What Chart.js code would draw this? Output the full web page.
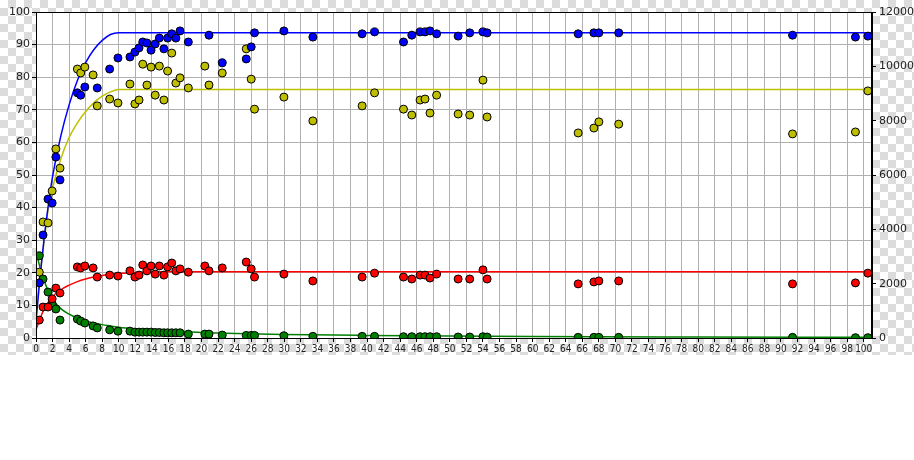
<!DOCTYPE html>
<html>
<head>
<meta charset="utf-8">
<script src="https://cdn.jsdelivr.net/npm/chart.js@4"></script>
<style>
  body { margin: 0; background: #fff; }
  #wrap {
    position: relative; width: 914px; height: 355px;
    background-color: #fff;
    background-image: repeating-conic-gradient(#dcdcdc 0% 25%, #fff 0% 50%);
    background-size: 16px 16px;
  }
</style>
</head>
<body>
<div id="wrap"><canvas id="chart"></canvas></div>
<script>
// measured samples (shared time axis)
const times = [0.4, 0.85, 1.45, 1.95, 2.4, 2.9, 5.0, 5.4, 5.9, 6.9, 7.4, 8.9, 9.9, 11.35, 11.95, 12.45, 12.9, 13.4, 13.9, 14.4, 14.9, 15.45, 15.9, 16.4, 16.9, 17.4, 18.4, 20.4, 20.9, 22.5, 25.4, 26.0, 26.4, 29.95, 33.45, 39.4, 40.9, 44.4, 45.4, 46.4, 47.0, 47.6, 48.4, 51.0, 52.4, 54.0, 54.5, 65.5, 67.4, 68.0, 70.4, 91.4, 99.0, 100.5];
const blueVals = [16.9, 31.6, 42.6, 41.4, 55.5, 48.5, 75.2, 74.5, 77.0, null, 76.7, 82.5, 85.9, 86.2, 87.7, 89.0, 90.8, 90.5, 88.3, 90.2, 92.0, 88.7, 92.0, 93.3, 92.0, 94.2, 90.8, null, 92.9, 84.4, 85.6, 89.3, 93.6, 94.2, 92.3, 93.3, 93.9, 90.8, 92.9, 93.9, 93.9, 94.2, 93.3, 92.6, 93.6, 93.9, 93.6, 93.3, 93.6, 93.6, 93.6, 92.9, 92.3, 92.6];
const yellowVals = [20.2, 35.6, 35.3, 45.1, 58.0, 52.1, 82.5, 81.3, 83.1, 80.7, 71.2, 73.3, 72.1, 77.9, 71.8, 73.0, 84.0, 77.6, 83.1, 74.5, 83.4, 73.0, 81.9, 87.4, 78.2, 79.8, 76.7, 83.4, 77.6, 81.3, 88.7, 79.4, 70.2, 73.9, 66.6, 71.2, 75.2, 70.2, 68.4, 73.0, 73.3, 69.0, 74.5, 68.7, 68.4, 79.1, 67.8, 62.9, 64.4, 66.3, 65.6, 62.6, 63.2, 75.8];
const redVals = [5.5, 9.5, 9.5, 12.0, 15.3, 13.8, 21.8, 21.5, 22.1, 21.5, 18.7, 19.3, 19.0, 20.6, 18.7, 19.3, 22.4, 20.6, 22.1, 19.6, 22.1, 19.3, 21.8, 23.0, 20.6, 21.2, 20.2, 22.1, 20.6, 21.5, 23.3, 21.2, 18.7, 19.6, 17.5, 18.7, 19.9, 18.7, 18.1, 19.3, 19.3, 18.4, 19.6, 18.1, 18.1, 20.9, 18.1, 16.6, 17.2, 17.5, 17.5, 16.6, 16.9, 19.9];
const greenVals = [25.2, 18.1, 14.1, 10.4, 8.9, 5.5, 5.8, 5.2, 4.6, 3.7, 3.1, 2.5, 2.1, 2.1, 1.8, 1.8, 1.8, 1.8, 1.8, 1.7, 1.7, 1.6, 1.6, 1.6, 1.6, 1.6, 1.2, 1.2, 1.2, 0.9, 0.8, 0.8, 0.8, 0.7, 0.5, 0.5, 0.5, 0.4, 0.4, 0.4, 0.4, 0.4, 0.4, 0.3, 0.3, 0.4, 0.3, 0.2, 0.2, 0.2, 0.2, 0.2, 0.1, 0.1];

// fitted curves
const fitTimes = [0, 0.5, 1, 1.5, 2, 3, 4, 5, 6, 7, 8, 9, 10, 12, 15, 20, 30, 40, 60, 80, 101];
const blueFit = [5, 19, 31, 41, 49.5, 62, 71.5, 79, 84.5, 88.5, 91.3, 93.1, 93.6, 93.6, 93.6, 93.6, 93.6, 93.6, 93.6, 93.6, 93.6];
const yellowFit = [8, 20, 30, 40, 46, 55, 61.5, 66, 69.5, 72.2, 74.2, 75.5, 76.2, 76.2, 76.2, 76.2, 76.2, 76.2, 76.2, 76.2, 76.2];
const redFit = [2.5, 6, 9, 11, 12.7, 14.8, 16.2, 17.3, 18.1, 18.7, 19.2, 19.6, 19.8, 20.1, 20.3, 20.3, 20.3, 20.3, 20.3, 20.3, 20.3];
const greenFit = [26.5, 21.5, 17.5, 14.3, 12, 9, 7.3, 6.1, 5.2, 4.6, 4.1, 3.7, 3.3, 2.8, 2.3, 1.7, 1.1, 0.8, 0.45, 0.3, 0.2];

const leftTicks = { min: 0, max: 100, step: 10 };
const rightTicks = { min: 0, max: 12000, step: 2000 };
const xTicks = { min: 0, max: 101, step: 2 };

const pts = (xs, ys) => xs.map((x, i) => ({ x: x, y: ys[i] })).filter(p => p.y !== null);

const dots = (ys, color) => ({
    type: 'scatter',
    data: pts(times, ys),
    backgroundColor: color,
    borderColor: '#000',
    borderWidth: 1,
    pointRadius: 4,
    showLine: false,
    order: 0
});
const curve = (ys, color) => ({
    type: 'scatter',
    data: pts(fitTimes, ys),
    borderColor: color,
    borderWidth: 1.5,
    pointRadius: 0,
    showLine: true,
    cubicInterpolationMode: 'monotone',
    order: 1
});

const frame = {
    id: 'frame',
    beforeDraw(chart) {
        const a = chart.chartArea, c = chart.ctx;
        c.save();
        c.fillStyle = '#fff';
        c.fillRect(a.left, a.top, a.right - a.left, a.bottom - a.top);
        c.restore();
    },
    afterDraw(chart) {
        const a = chart.chartArea, c = chart.ctx;
        c.save();
        c.strokeStyle = '#000';
        c.lineWidth = 1;
        c.strokeRect(a.left + 0.5, a.top + 0.5, a.right - a.left - 1, a.bottom - a.top);
        c.restore();
    }
};

const tickFont = { family: 'DejaVu Sans', size: 11 };
const narrowFont = { family: '"DejaVu Sans Condensed", "Liberation Sans Narrow", "DejaVu Sans"', size: 10 };

new Chart(document.getElementById('chart'), {
    data: {
        datasets: [
            dots(blueVals, '#0000ff'), dots(yellowVals, '#bfbf00'),
            dots(redVals, '#ff0000'), dots(greenVals, '#008000'),
            curve(blueFit, '#0000ff'), curve(yellowFit, '#bfbf00'),
            curve(redFit, '#ff0000'), curve(greenFit, '#008000')
        ]
    },
    options: {
        responsive: true,
        maintainAspectRatio: false,
        animation: false,
        layout: { padding: { top: 12, left: 0, right: 0, bottom: 0 } },
        plugins: { legend: { display: false }, tooltip: { enabled: false } },
        scales: {
            x: {
                type: 'linear',
                min: xTicks.min, max: xTicks.max,
                afterFit(s) { s.height = 17; },
                ticks: { stepSize: xTicks.step, includeBounds: false, autoSkip: false, maxRotation: 0,
                         color: '#222', font: narrowFont, padding: 1 },
                grid: { color: '#b0b0b0', lineWidth: 1, tickLength: 4, tickColor: '#000' },
                border: { color: '#000', width: 1 }
            },
            y: {
                position: 'left',
                min: leftTicks.min, max: leftTicks.max,
                afterFit(s) { s.width = 36; },
                ticks: { stepSize: leftTicks.step, color: '#222', font: tickFont, padding: 2 },
                grid: { color: '#b0b0b0', lineWidth: 1, tickLength: 4, tickColor: '#000' },
                border: { color: '#000', width: 1 }
            },
            y2: {
                position: 'right',
                min: rightTicks.min, max: rightTicks.max,
                afterFit(s) { s.width = 42; },
                ticks: { stepSize: rightTicks.step, color: '#222', font: tickFont, padding: 3 },
                grid: { drawOnChartArea: false, tickLength: 4, tickColor: '#000' },
                border: { color: '#000', width: 1 }
            }
        }
    },
    plugins: [frame]
});
</script>
</body>
</html>
